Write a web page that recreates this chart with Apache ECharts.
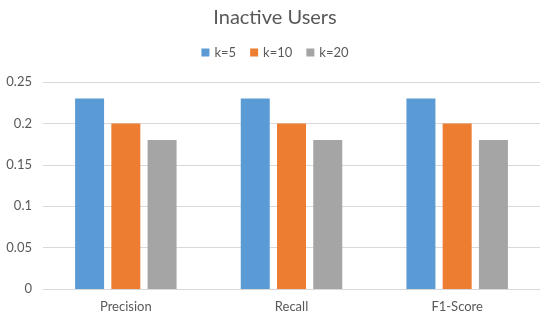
<!DOCTYPE html>
<html><head><meta charset="utf-8">
<script src="https://cdn.jsdelivr.net/npm/echarts@6/dist/echarts.min.js"></script>
<style>html,body{margin:0;padding:0;background:#fff}#c{width:550px;height:325px}</style>
</head><body><div id="c"></div>
<script>
const categories = ['Precision', 'Recall', 'F1-Score'];
const k5 = [0.23, 0.23, 0.23];
const k10 = [0.20, 0.20, 0.20];
const k20 = [0.18, 0.18, 0.18];
const yTicks = [0, 0.05, 0.1, 0.15, 0.2, 0.25];

const font = 'Lato, "Open Sans", sans-serif';
const chart = echarts.init(document.getElementById('c'), null, {renderer: 'canvas'});
chart.setOption({
  animation: false,
  title: {text: 'Inactive Users', left: 'center', top: 3,
    textStyle: {fontFamily: font, fontSize: 20, fontWeight: 'normal', color: '#595959'}},
  legend: {top: 41, left: 'center', itemWidth: 8, itemHeight: 8, itemGap: 14, icon: 'rect',
    textStyle: {fontFamily: font, fontSize: 13, color: '#595959'}},
  grid: {left: 43, right: 10, top: 82, bottom: 36, containLabel: false},
  xAxis: {type: 'category', data: categories,
    axisLine: {lineStyle: {color: '#d9d9d9'}}, axisTick: {show: false},
    axisLabel: {fontFamily: font, fontSize: 13, color: '#595959', margin: 11}},
  yAxis: {type: 'value', min: yTicks[0], max: yTicks[yTicks.length-1], interval: 0.05,
    axisLine: {show: false}, axisTick: {show: false},
    splitLine: {lineStyle: {color: '#d9d9d9'}},
    axisLabel: {fontFamily: font, fontSize: 13, color: '#595959', margin: 11,
      formatter: v => String(Math.round(v*100)/100)}},
  series: [
    {name: 'k=5', type: 'bar', data: k5, itemStyle: {color: '#5B9BD5'}, barWidth: 29, barGap: '25%'},
    {name: 'k=10', type: 'bar', data: k10, itemStyle: {color: '#ED7D31'}, barWidth: 29, barGap: '25%'},
    {name: 'k=20', type: 'bar', data: k20, itemStyle: {color: '#A5A5A5'}, barWidth: 29, barGap: '25%'}
  ]
});
</script></body></html>
